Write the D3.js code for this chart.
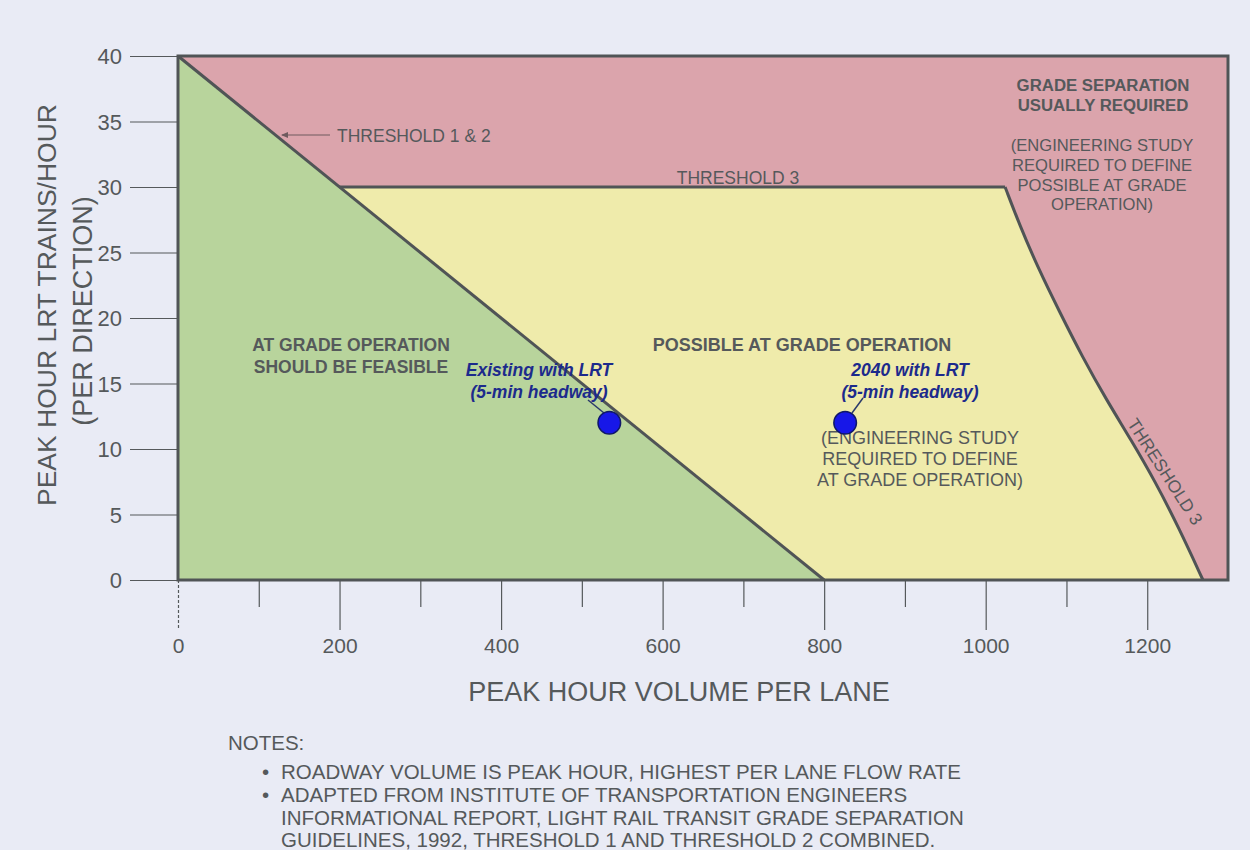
<!DOCTYPE html>
<html><head><meta charset="utf-8">
<script src="https://cdn.jsdelivr.net/npm/d3@7"></script>
<style>
html,body{margin:0;padding:0;background:#e9ebf5;}
svg{display:block;font-family:"Liberation Sans",Arial,sans-serif;}
</style></head>
<body><svg id="c" width="1250" height="850"></svg>
<script>
// ---- data ----
const xTicks = [0,100,200,300,400,500,600,700,800,900,1000,1100,1200];
const xLabelTicks = [0,200,400,600,800,1000,1200];
const yTicks = [0,5,10,15,20,25,30,35,40];
const threshold12 = [[0,40],[800,0]];
const threshold3Flat = [[200,30],[1024,30]];
const threshold3Curve = [[1024,30],[1042,27.1],[1065,23.8],[1092,20.4],[1120,17.0],[1150,13.7],[1180,10.7],[1210,7.5],[1239,4.0],[1269,0]];
const points = [
  {name:"Existing with LRT", sub:"(5-min headway)", x:534, y:12},
  {name:"2040 with LRT", sub:"(5-min headway)", x:826, y:12}
];
const notes = [
  "ROADWAY VOLUME IS PEAK HOUR, HIGHEST PER LANE FLOW RATE",
  "ADAPTED FROM INSTITUTE OF TRANSPORTATION ENGINEERS",
  "INFORMATIONAL REPORT, LIGHT RAIL TRANSIT GRADE SEPARATION",
  "GUIDELINES, 1992, THRESHOLD 1 AND THRESHOLD 2 COMBINED."
];

// ---- setup ----
const svg = d3.select("#c");
const x = d3.scaleLinear().domain([0,1300]).range([178,1228]);
const y = d3.scaleLinear().domain([0,40]).range([580,56]);
const gray = "#55595b", lineCol = "#505456";
const red = "#dba4ac", green = "#b8d49c", yellow = "#efebab";

svg.append("rect").attr("width",1250).attr("height",850).attr("fill","#e9ebf5");

// regions
svg.append("rect").attr("x",x(0)).attr("y",y(40)).attr("width",x(1300)-x(0)).attr("height",y(0)-y(40)).attr("fill",red);
const poly = d3.line().x(d=>x(d[0])).y(d=>y(d[1]));
svg.append("path").attr("d",poly([[0,0],...threshold12])+"Z").attr("fill",green);
const curveGen = d3.line().x(d=>x(d[0])).y(d=>y(d[1])).curve(d3.curveBasis);
const curveD = curveGen(threshold3Curve);
const yellowD = "M"+x(200)+","+y(30)+curveD.replace(/^M/,"L")+"L"+x(800)+","+y(0)+"Z";
svg.append("path").attr("d",yellowD).attr("fill",yellow);

// axes
const yAxis = svg.append("g").attr("transform",`translate(${x(0)},0)`)
  .call(d3.axisLeft(y).tickValues(yTicks).tickSize(48).tickPadding(8).tickSizeOuter(0));
yAxis.select(".domain").remove();
yAxis.selectAll("line").attr("stroke",gray).attr("stroke-width",1.2);
yAxis.selectAll("text").attr("fill",gray).attr("font-size",22).attr("dy","0.35em");

const xAxis = svg.append("g").attr("transform",`translate(0,${y(0)})`)
  .call(d3.axisBottom(x).tickValues(xTicks).tickSize(50).tickPadding(8).tickSizeOuter(0)
    .tickFormat(d=>xLabelTicks.includes(d)?d:""));
xAxis.select(".domain").remove();
xAxis.selectAll("line").attr("stroke",gray).attr("stroke-width",1.2)
  .attr("y2",d=>xLabelTicks.includes(d)?50:27)
  .attr("stroke-dasharray",d=>d===0?"3,2":null);
xAxis.selectAll("text").attr("fill",gray).attr("font-size",21);

// threshold lines
svg.append("path").attr("d",poly(threshold12)).attr("stroke",lineCol).attr("stroke-width",3).attr("fill","none");
svg.append("path").attr("d",poly(threshold3Flat)).attr("stroke",lineCol).attr("stroke-width",3).attr("fill","none");
svg.append("path").attr("d",curveD).attr("stroke",lineCol).attr("stroke-width",3).attr("fill","none");
// frame
svg.append("rect").attr("x",x(0)).attr("y",y(40)).attr("width",x(1300)-x(0)).attr("height",y(0)-y(40))
  .attr("fill","none").attr("stroke",lineCol).attr("stroke-width",3);

// labels helper
function txt(t,px,py,opt={}){
  return svg.append("text").attr("x",px).attr("y",py).text(t)
    .attr("fill",opt.fill||gray).attr("font-size",opt.size||14)
    .attr("font-weight",opt.bold?"bold":"normal").attr("font-style",opt.italic?"italic":"normal")
    .attr("text-anchor",opt.anchor||"middle");
}
// Threshold 1 & 2 label with leader
svg.append("line").attr("x1",282).attr("y1",135).attr("x2",330).attr("y2",135).attr("stroke","#6e5a5e").attr("stroke-width",1);
svg.append("path").attr("d","M281,135 l7,-3 l0,6 Z").attr("fill","#6e5a5e");
txt("THRESHOLD 1 & 2",337,142,{anchor:"start",size:17.5});
txt("THRESHOLD 3",738,184,{size:17.5});
svg.append("text").attr("transform","translate(1160,475) rotate(57)").attr("text-anchor","middle")
  .attr("font-size",17.5).attr("fill",gray).text("THRESHOLD 3");

// region labels
txt("AT GRADE OPERATION",351,351,{bold:true,size:17.5});
txt("SHOULD BE FEASIBLE",351,373,{bold:true,size:17.5});
txt("POSSIBLE AT GRADE OPERATION",802,351,{bold:true,size:18});
txt("(ENGINEERING STUDY",920,444,{size:18});
txt("REQUIRED TO DEFINE",920,465,{size:18});
txt("AT GRADE OPERATION)",920,486,{size:18});
txt("GRADE SEPARATION",1103,91,{bold:true,size:16.8});
txt("USUALLY REQUIRED",1103,111,{bold:true,size:16.8});
txt("(ENGINEERING STUDY",1102,151,{size:16.6});
txt("REQUIRED TO DEFINE",1102,171,{size:16.6});
txt("POSSIBLE AT GRADE",1102,191,{size:16.6});
txt("OPERATION)",1102,210,{size:16.6});

// points
const navy = "#1c2a8c";
const lblX = [539, 910];
const leads = [[[588,400],[604,413]],[[863,398],[852,413]]];
points.forEach((p,i)=>{
  const cx = x(p.x), cy = y(p.y);
  const lead = leads[i];
  svg.append("line").attr("x1",lead[0][0]).attr("y1",lead[0][1]).attr("x2",lead[1][0]).attr("y2",lead[1][1])
    .attr("stroke","#2a3a6a").attr("stroke-width",1.5);
  svg.append("circle").attr("cx",cx).attr("cy",cy).attr("r",11.3).attr("fill","#1717e8").attr("stroke","#10186a").attr("stroke-width",1.5);
  txt(p.name,lblX[i],376,{bold:true,italic:true,size:17.5,fill:navy});
  txt(p.sub,lblX[i],398,{bold:true,italic:true,size:17.5,fill:navy});
});

// axis titles
svg.append("text").attr("transform","translate(56,305) rotate(-90)").attr("text-anchor","middle")
  .attr("font-size",26.5).attr("fill",gray).text("PEAK HOUR LRT TRAINS/HOUR");
svg.append("text").attr("transform","translate(92,311) rotate(-90)").attr("text-anchor","middle")
  .attr("font-size",27).attr("fill",gray).text("(PER DIRECTION)");
txt("PEAK HOUR VOLUME PER LANE",679,701,{size:27});

// notes
txt("NOTES:",228,750,{anchor:"start",size:20.5});
const noteY = [779,802,825,847];
notes.forEach((n,i)=>{
  if(i<2) txt("•",262,noteY[i],{anchor:"start",size:20.5});
  txt(n,281,noteY[i],{anchor:"start",size:20.5,});
});
</script></body></html>
